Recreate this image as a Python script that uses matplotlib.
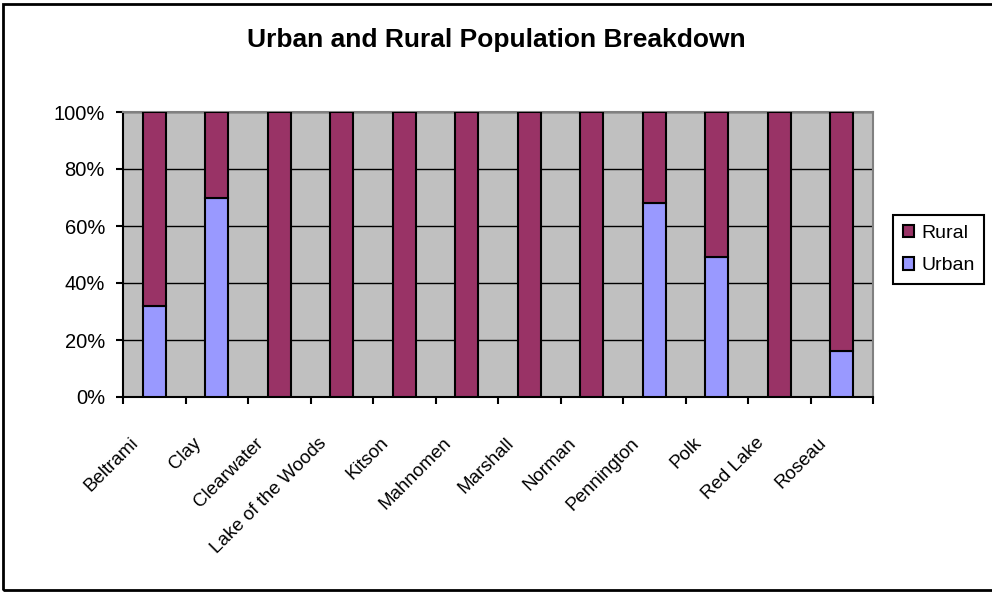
import matplotlib.pyplot as plt
from matplotlib.patches import Rectangle
from matplotlib.ticker import FuncFormatter
from matplotlib.transforms import ScaledTranslation
import numpy as np

plt.rcParams['font.family'] = ['Liberation Sans', 'DejaVu Sans']

counties = ["Beltrami", "Clay", "Clearwater", "Lake of the Woods", "Kitson",
            "Mahnomen", "Marshall", "Norman", "Pennington", "Polk",
            "Red Lake", "Roseau"]
urban = [32, 70, 0, 0, 0, 0, 0, 0, 68, 49, 0, 16]
rural = [68, 30, 100, 100, 100, 100, 100, 100, 32, 51, 100, 84]

fig = plt.figure(figsize=(9.92, 5.93), dpi=100)
ax = fig.add_axes([123/992, 1-397/593, 750/992, 285/593])

x = np.arange(len(counties))
u = np.array(urban) / 100.0
r = np.array(rural) / 100.0
ax.set_facecolor("#C0C0C0")
ax.bar(x, u, width=0.37, color="#9999FF", edgecolor="black", linewidth=1.5,
       label="Urban", zorder=3)
ax.bar(x, r, bottom=u, width=0.37, color="#993366", edgecolor="black",
       linewidth=1.5, label="Rural", zorder=3)

ax.set_xlim(-0.5, len(counties) - 0.5)
ax.set_ylim(0, 1)
ax.set_yticks(np.arange(0, 1.01, 0.2))
ax.yaxis.set_major_formatter(FuncFormatter(lambda v, p: "%d%%" % round(v * 100)))
ax.grid(axis="y", color="black", linewidth=1, zorder=1)
ax.tick_params(axis="y", direction="out", length=5, width=1.5, pad=8,
               labelsize=14.5)

ax.set_xticks(np.arange(-0.5, len(counties), 1))
ax.set_xticklabels([])
ax.tick_params(axis="x", which="major", direction="out", length=5, width=1.5)
ax.set_xticks(x, minor=True)
ax.set_xticklabels(counties, minor=True, rotation=45, ha="right",
                   rotation_mode="anchor", fontsize=13.5)
ax.tick_params(axis="x", which="minor", length=0, pad=27)
off = ScaledTranslation(-24/100, 0, fig.dpi_scale_trans)
for lab in ax.get_xticklabels(minor=True):
    lab.set_transform(lab.get_transform() + off)

for s in ["left", "bottom"]:
    ax.spines[s].set_color("black")
    ax.spines[s].set_linewidth(1.5)
for s in ["top", "right"]:
    ax.spines[s].set_color("#808080")
    ax.spines[s].set_linewidth(1.5)

h, l = ax.get_legend_handles_labels()
leg = fig.legend(h[::-1], l[::-1], loc="upper left",
                 bbox_to_anchor=(893/992, 1-215/593), borderaxespad=0,
                 fontsize=14, frameon=True, fancybox=False, framealpha=1,
                 edgecolor="black", handlelength=0.6, handleheight=0.6,
                 handletextpad=0.35, labelspacing=0.8, borderpad=0.5)
leg.get_frame().set_linewidth(1.5)

fig.text(0.5, 1-40/593, "Urban and Rural Population Breakdown",
         ha="center", va="center", fontsize=19, fontweight="bold")

fig.patches.append(Rectangle((3/992, 3/593), 1000/992, 586/593,
                             transform=fig.transFigure, fill=False,
                             edgecolor="black", linewidth=2))

fig.savefig("out.png", dpi=100)
